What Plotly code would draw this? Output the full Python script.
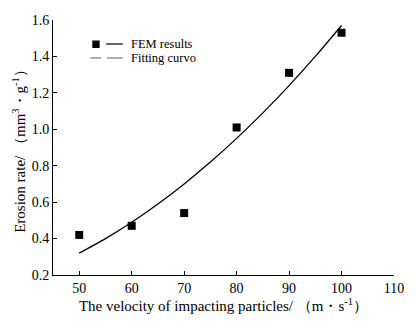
import plotly.graph_objects as go

velocity = [50, 60, 70, 80, 90, 100]
erosion_fem = [0.42, 0.47, 0.54, 1.01, 1.31, 1.53]
fit_velocity = [50, 55, 60, 65, 70, 75, 80, 85, 90, 95, 100]
fit_erosion = [0.32, 0.40, 0.49, 0.59, 0.70, 0.82, 0.95, 1.09, 1.24, 1.40, 1.57]
x_ticks = [50, 60, 70, 80, 90, 100, 110]
y_ticks = [0.2, 0.4, 0.6, 0.8, 1.0, 1.2, 1.4, 1.6]

serif = "Liberation Serif, Times New Roman, serif"

fig = go.Figure()
fig.add_trace(go.Scatter(x=fit_velocity, y=fit_erosion, mode="lines",
                         line=dict(color="black", width=1.3, shape="spline", smoothing=0.6),
                         showlegend=False))
fig.add_trace(go.Scatter(x=velocity, y=erosion_fem, mode="markers",
                         marker=dict(symbol="square", size=8, color="black"),
                         showlegend=False, cliponaxis=False))

shapes = [
    dict(type="rect", xref="paper", yref="paper", layer="above",
         x0=(93 - 53) / 347, x1=(100.5 - 53) / 347,
         y0=(275 - 48) / 255, y1=(275 - 40.5) / 255,
         fillcolor="black", line=dict(width=0)),
    dict(type="line", xref="paper", yref="paper",
         x0=(107 - 53) / 347, x1=(124 - 53) / 347,
         y0=(275 - 44) / 255, y1=(275 - 44) / 255,
         line=dict(color="black", width=1.2)),
    dict(type="line", xref="paper", yref="paper",
         x0=(91 - 53) / 347, x1=(102 - 53) / 347,
         y0=(275 - 58) / 255, y1=(275 - 58) / 255,
         line=dict(color="#777777", width=1.2)),
    dict(type="line", xref="paper", yref="paper",
         x0=(108 - 53) / 347, x1=(124 - 53) / 347,
         y0=(275 - 58) / 255, y1=(275 - 58) / 255,
         line=dict(color="#777777", width=1.2)),
]
annotations = [
    dict(text="FEM results", xref="paper", yref="paper",
         x=(130 - 53) / 347, y=(275 - 44) / 255, xanchor="left", yanchor="middle",
         showarrow=False, font=dict(family=serif, size=12.5, color="black")),
    dict(text="Fitting curvo", xref="paper", yref="paper",
         x=(130 - 53) / 347, y=(275 - 58) / 255, xanchor="left", yanchor="middle",
         showarrow=False, font=dict(family=serif, size=12.5, color="black")),
]

fig.update_layout(
    width=416, height=324,
    margin=dict(l=53, r=16, t=20, b=49),
    paper_bgcolor="white", plot_bgcolor="white",
    font=dict(family=serif, size=14, color="black"),
    shapes=shapes, annotations=annotations,
    xaxis=dict(range=[45, 110], tickvals=x_ticks, ticks="inside", ticklen=4,
               tickcolor="black", showline=True, linecolor="black", linewidth=1,
               showgrid=False, zeroline=False,
               tickfont=dict(family=serif, size=14),
               title=dict(text="The velocity of impacting particles/ （m・s<sup>-1</sup>）",
                          font=dict(family=serif, size=15), standoff=4)),
    yaxis=dict(range=[0.2, 1.6], tickvals=y_ticks, tickformat=".1f", ticks="inside",
               ticklen=4, tickcolor="black", showline=True, linecolor="black",
               linewidth=1, showgrid=False, zeroline=False,
               tickfont=dict(family=serif, size=14),
               title=dict(text="Erosion rate/ （mm<sup>3</sup>・g<sup>-1</sup>）",
                          font=dict(family=serif, size=15), standoff=2)),
)

fig.write_html("out.html")
